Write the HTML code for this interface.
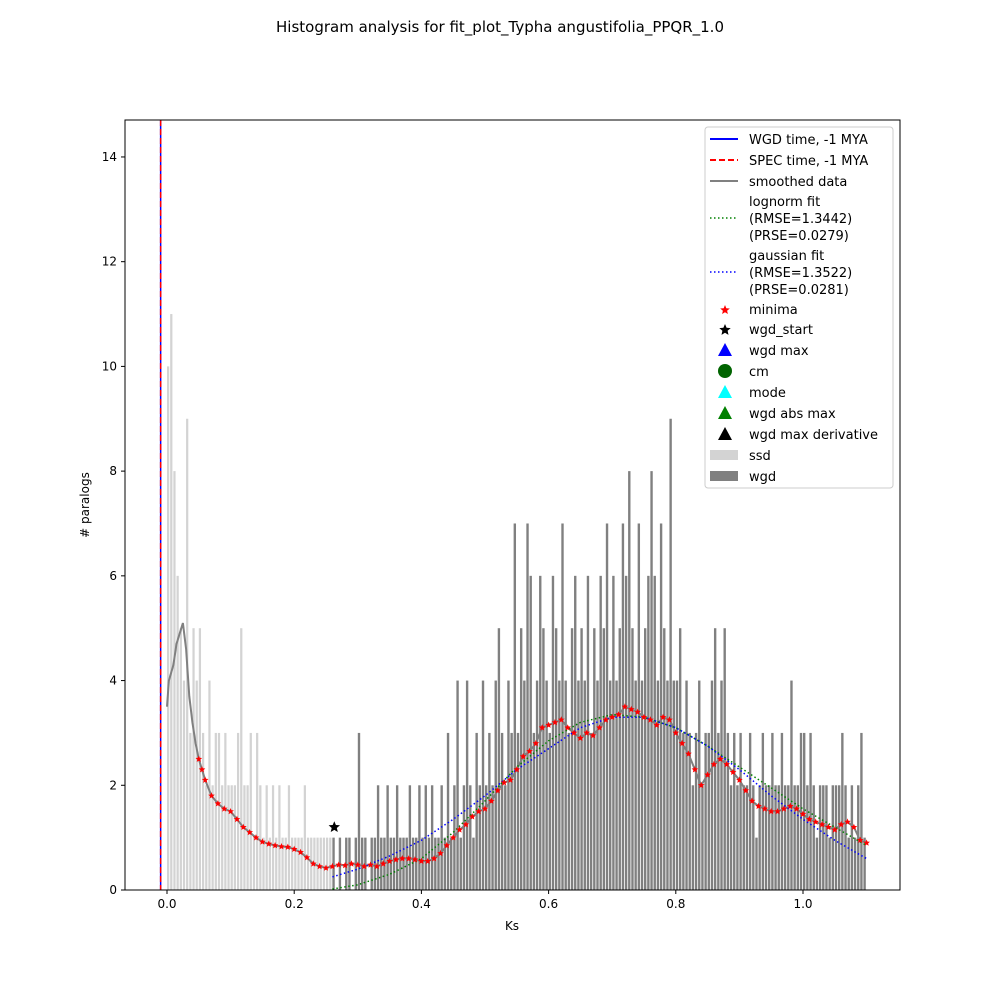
<!DOCTYPE html>
<html><head><meta charset="utf-8"><style>
body{margin:0;background:#fff;}
svg text{font-family:"DejaVu Sans","Liberation Sans",sans-serif;}
</style></head><body>
<svg id="chart" width="1000" height="1000" xmlns="http://www.w3.org/2000/svg">
<rect width="1000" height="1000" fill="#fff"/>
<text x="500" y="32" text-anchor="middle" font-size="15">Histogram analysis for fit_plot_Typha angustifolia_PPQR_1.0</text>
<g id="plot"></g>
</svg>
<script>
const ssdStart = 0.0, ssdBin = 0.005;
const ssdCounts = [10,11,8,6,5,4,9,3,5,4,5,3,2,4,2,3,3,2,3,2,2,2,3,5,2,2,3,1,3,2,1,2,1,2,1,2,1,1,2,1,1,1,1,2,1,1,1,1,1,1,1,1];
const wgdStart = 0.26, wgdBin = 0.005;
const wgdCounts = [1,0,1,0,1,1,0,1,3,1,1,0,
 1,1,2,1,1,2,1,1,2,1,1,1,2,1,1,2,
 1,2,1,2,1,1,2,1,3,1,
 2,4,1,2,4,2,1,3,2,4,
 2,3,2,4,5,3,2,4,3,7,
 3,5,4,7,6,3,4,6,5,4,
 3,6,5,4,7,4,3,5,6,4,
 5,4,6,3,5,4,6,5,7,4,
 6,4,5,7,6,8,5,4,7,4,
 5,6,8,6,4,7,5,4,9,4,
 4,5,3,4,3,2,3,4,2,3,
 3,4,5,3,4,5,3,2,3,2,
 3,2,2,3,2,1,2,3,2,2,
 3,2,2,3,2,2,4,2,2,3,
 3,2,3,2,1,2,2,2,1,2,
 2,2,3,2,1,2,1,2,3,1];
const smoothX = [0,0.003,0.01,0.015,0.02,0.025,0.03,0.035,0.04,0.045,0.05,0.055,0.06,0.07,0.08,0.09,0.1,0.11,0.12,0.13,0.14,0.15,0.16,0.17,0.18,0.19,0.2,0.21,0.22,0.23,0.24,0.25,0.26,0.27,0.28,0.29,0.3,0.31,0.32,0.33,0.34,0.35,0.36,0.37,0.38,0.39,0.4,0.41,0.42,0.43,0.44,0.45,0.46,0.47,0.48,0.49,0.5,0.51,0.52,0.53,0.54,0.55,0.56,0.57,0.58,0.59,0.6,0.61,0.62,0.63,0.64,0.65,0.66,0.67,0.68,0.69,0.7,0.71,0.72,0.73,0.74,0.75,0.76,0.77,0.78,0.79,0.8,0.81,0.82,0.83,0.84,0.85,0.86,0.87,0.88,0.89,0.9,0.91,0.92,0.93,0.94,0.95,0.96,0.97,0.98,0.99,1.0,1.01,1.02,1.03,1.04,1.05,1.06,1.07,1.08,1.09,1.1];
const smoothY = [3.5,4,4.3,4.7,4.9,5.1,4.6,3.7,3.2,2.8,2.5,2.3,2.1,1.8,1.65,1.55,1.5,1.35,1.2,1.1,1.0,0.92,0.88,0.85,0.83,0.82,0.78,0.72,0.62,0.5,0.45,0.42,0.45,0.48,0.47,0.5,0.48,0.45,0.48,0.45,0.5,0.55,0.58,0.6,0.6,0.58,0.55,0.55,0.6,0.7,0.85,1.0,1.15,1.25,1.4,1.5,1.55,1.7,1.9,2.05,2.1,2.3,2.55,2.65,2.8,3.1,3.15,3.2,3.25,3.1,3.0,2.9,3.0,2.95,3.1,3.25,3.3,3.35,3.5,3.45,3.4,3.3,3.25,3.15,3.3,3.25,3.0,2.8,2.6,2.3,2.0,2.2,2.4,2.5,2.4,2.25,2.1,1.9,1.7,1.6,1.55,1.5,1.5,1.55,1.6,1.55,1.45,1.35,1.3,1.25,1.2,1.15,1.25,1.3,1.2,0.95,0.9];
const fitX = [0.26,0.3,0.35,0.4,0.45,0.5,0.55,0.6,0.65,0.7,0.75,0.8,0.85,0.9,0.95,1.0,1.05,1.1];
const lognormY = [0.02,0.1,0.3,0.6,1.1,1.7,2.35,2.85,3.2,3.35,3.3,3.1,2.75,2.35,1.95,1.55,1.2,0.85];
const gaussY = [0.25,0.4,0.65,0.95,1.35,1.8,2.3,2.7,3.1,3.3,3.3,3.1,2.75,2.3,1.8,1.35,0.95,0.6];
const xTicks = [0.0,0.2,0.4,0.6,0.8,1.0];
const xTickLabels = ["0.0","0.2","0.4","0.6","0.8","1.0"];
const yTicks = [0,2,4,6,8,10,12,14];
const wgdTime = -0.01;
const wgdStartPt = [0.263,1.2];

const L=125,R=900,T=120,B=890;
const xs = v => 167 + v*636;
const ys = v => 890 - v*52.36;
const NS="http://www.w3.org/2000/svg";
const plot=document.getElementById('plot');
function mk(tag,attrs,parent){const e=document.createElementNS(NS,tag);for(const k in attrs)e.setAttribute(k,attrs[k]);(parent||plot).appendChild(e);return e;}

const gS=mk('g',{});


ssdCounts.forEach((c,i)=>{const x0=xs(ssdStart+i*ssdBin),x1=xs(ssdStart+(i+1)*ssdBin);
 const r=mk('rect',{x:x0,y:ys(c),width:(x1-x0)*0.7,height:ys(0)-ys(c),fill:'#d3d3d3'},gS);
 
 });
const gW=mk('g',{});


wgdCounts.forEach((c,i)=>{const x0=xs(wgdStart+i*wgdBin),x1=xs(wgdStart+(i+1)*wgdBin);
 const r=mk('rect',{x:x0,y:ys(c),width:(x1-x0)*0.75,height:ys(0)-ys(c),fill:'#808080'},gW);
 
 });

function line(xa,ya,attrs,name){const d=xa.map((x,i)=>(i?'L':'M')+xs(x).toFixed(1)+','+ys(ya[i]).toFixed(1)).join('');
 const p=mk('path',Object.assign({d:d,fill:'none'},attrs));
 
 }
line(smoothX,smoothY,{stroke:'#808080','stroke-width':2},'smoothed-line');
line(fitX,lognormY,{stroke:'green','stroke-width':1.5,'stroke-dasharray':'1.5,2.5'},'lognorm-fit-line');
line(fitX,gaussY,{stroke:'blue','stroke-width':1.5,'stroke-dasharray':'1.5,2.5'},'gaussian-fit-line');

function star(cx,cy,r,fill){let pts=[];for(let k=0;k<10;k++){const a=-Math.PI/2+k*Math.PI/5,rr=k%2?r*0.45:r;pts.push((cx+rr*Math.cos(a)).toFixed(1)+','+(cy+rr*Math.sin(a)).toFixed(1));}return {points:pts.join(' '),fill:fill};}
smoothX.forEach((x,i)=>{if(x<0.05)return;const s=mk('polygon',star(xs(x),ys(smoothY[i]),3.5,'red'));
 
 });
const ws=mk('polygon',star(xs(wgdStartPt[0]),ys(wgdStartPt[1]),6,'black'));



const v1=mk('line',{x1:xs(wgdTime),x2:xs(wgdTime),y1:T,y2:B,stroke:'blue','stroke-width':1.5});


const v2=mk('line',{x1:xs(wgdTime),x2:xs(wgdTime),y1:T,y2:B,stroke:'red','stroke-width':1.5,'stroke-dasharray':'6,3'});



const fr=mk('rect',{x:L,y:T,width:R-L,height:B-T,fill:'none',stroke:'#000','stroke-width':1});


xTicks.forEach((v,i)=>{mk('line',{x1:xs(v),x2:xs(v),y1:B,y2:B+4,stroke:'#000'});
 const t=mk('text',{x:xs(v),y:B+18,'text-anchor':'middle','font-size':12});t.textContent=xTickLabels[i];
 
 });
yTicks.forEach(v=>{mk('line',{x1:L-4,x2:L,y1:ys(v),y2:ys(v),stroke:'#000'});
 const t=mk('text',{x:L-8,y:ys(v)+4,'text-anchor':'end','font-size':12});t.textContent=v;
 
 });
const xl=mk('text',{x:512,y:930,'text-anchor':'middle','font-size':12});xl.textContent='Ks';


const yl=mk('text',{x:89,y:505,'text-anchor':'middle','font-size':12,transform:'rotate(-90 89 505)'});yl.textContent='# paralogs';



// legend
const lg=mk('g',{});


mk('rect',{x:705,y:127,width:188,height:361,rx:3,fill:'#fff','fill-opacity':0.8,stroke:'#ccc'},lg);
function ltext(y,s){const t=mk('text',{x:749,y:y+5,'font-size':13},lg);t.textContent=s;}
mk('line',{x1:710,x2:738,y1:139,y2:139,stroke:'blue','stroke-width':2},lg);ltext(139,'WGD time, -1 MYA');
mk('line',{x1:710,x2:738,y1:160,y2:160,stroke:'red','stroke-width':2,'stroke-dasharray':'6,3'},lg);ltext(160,'SPEC time, -1 MYA');
mk('line',{x1:710,x2:738,y1:181,y2:181,stroke:'#808080','stroke-width':2},lg);ltext(181,'smoothed data');
mk('line',{x1:710,x2:738,y1:218,y2:218,stroke:'green','stroke-width':1.5,'stroke-dasharray':'1.5,2.5'},lg);
ltext(201,'lognorm fit');ltext(218,'(RMSE=1.3442)');ltext(235,'(PRSE=0.0279)');
mk('line',{x1:710,x2:738,y1:272,y2:272,stroke:'blue','stroke-width':1.5,'stroke-dasharray':'1.5,2.5'},lg);
ltext(255,'gaussian fit');ltext(272,'(RMSE=1.3522)');ltext(289,'(PRSE=0.0281)');
mk('polygon',star(725,310,5,'red'),lg);ltext(309,'minima');
mk('polygon',star(725,330,6,'black'),lg);ltext(329,'wgd_start');
function tri(cy,c){mk('polygon',{points:`725,${cy-7} 732,${cy+6} 718,${cy+6}`,fill:c},lg);}
tri(350,'blue');ltext(350,'wgd max');
mk('circle',{cx:725,cy:371,r:7,fill:'darkgreen'},lg);ltext(371,'cm');
tri(392,'cyan');ltext(392,'mode');
tri(413,'green');ltext(413,'wgd abs max');
tri(434,'black');ltext(434,'wgd max derivative');
mk('rect',{x:710,y:450,width:28,height:10,fill:'#d3d3d3'},lg);ltext(455,'ssd');
mk('rect',{x:710,y:471,width:28,height:10,fill:'#808080'},lg);ltext(476,'wgd');
</script>
</body></html>
